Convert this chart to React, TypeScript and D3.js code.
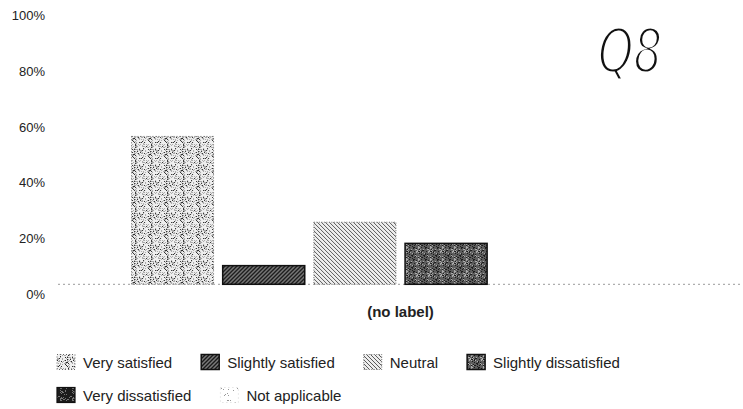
import React from "react";
import * as d3 from "d3";

const categories = ["(no label)"];
const seriesNames = [
  "Very satisfied",
  "Slightly satisfied",
  "Neutral",
  "Slightly dissatisfied",
  "Very dissatisfied",
  "Not applicable",
];
const seriesValues = [53.1, 6.7, 22.3, 14.7, 0, 0];
const yTickValues = [0, 20, 40, 60, 80, 100];
const yTickLabels = ["0%", "20%", "40%", "60%", "80%", "100%"];
const legendRows = [[0, 1, 2, 3], [4, 5]];
const annotation = "Q8";

const W = 743;
const H = 409;
const FONT = "'Liberation Sans', Arial, sans-serif";

function lcg(seed: number) {
  let s = seed >>> 0;
  return () => {
    s = (s * 1664525 + 1013904223) % 4294967296;
    return s / 4294967296;
  };
}

function dots(size: number, count: number, seed: number) {
  const r = lcg(seed);
  const out: [number, number][] = [];
  for (let i = 0; i < count; i++) out.push([Math.floor(r() * size), Math.floor(r() * size)]);
  return out;
}

let canvasCtx: CanvasRenderingContext2D | null = null;
function measure(text: string, font: string) {
  if (!canvasCtx) canvasCtx = document.createElement("canvas").getContext("2d");
  if (!canvasCtx) return text.length * 7;
  canvasCtx.font = font;
  return canvasCtx.measureText(text).width;
}

const patternIds = ["pVS", "pSS", "pN", "pSD", "pVD", "pNA"];
const borderStyles = [
  { stroke: "#666", dash: "1 2", width: 1 },
  { stroke: "#111", dash: "", width: 1.5 },
  { stroke: "#777", dash: "1 1.5", width: 1 },
  { stroke: "#111", dash: "", width: 1.5 },
  { stroke: "#111", dash: "", width: 1.2 },
  { stroke: "#ccc", dash: "1 3", width: 0.8 },
];

function Patterns() {
  const vsGray = dots(16, 80, 11);
  const vsDark = dots(16, 26, 23);
  const sdLight = dots(12, 22, 37);
  const sdDark = dots(12, 46, 41);
  const vdGray = dots(12, 30, 53);
  const naDots = dots(16, 12, 67);
  return (
    <defs>
      <pattern id="pVS" patternUnits="userSpaceOnUse" width={16} height={16}>
        <rect width={16} height={16} fill="#efefef" />
        {vsGray.map(([x, y], i) => (
          <rect key={"g" + i} x={x} y={y} width={1} height={1} fill="#a8a8a8" />
        ))}
        {vsDark.map(([x, y], i) => (
          <rect key={"d" + i} x={x} y={y} width={1} height={1} fill="#2a2a2a" />
        ))}
      </pattern>
      <pattern id="pSS" patternUnits="userSpaceOnUse" width={4} height={4}>
        <rect width={4} height={4} fill="#7a7a7a" />
        <path d="M0,4 L4,0 M-1,1 L1,-1 M3,5 L5,3" stroke="#1a1a1a" strokeWidth={1.4} />
      </pattern>
      <pattern id="pN" patternUnits="userSpaceOnUse" width={4} height={4}>
        <rect width={4} height={4} fill="#eeeeee" />
        <path d="M0,0 L4,4 M-1,3 L1,5 M3,-1 L5,1" stroke="#5a5a5a" strokeWidth={1} />
      </pattern>
      <pattern id="pSD" patternUnits="userSpaceOnUse" width={12} height={12}>
        <rect width={12} height={12} fill="#5e5e5e" />
        {sdDark.map(([x, y], i) => (
          <rect key={"d" + i} x={x} y={y} width={1} height={1} fill="#1a1a1a" />
        ))}
        {sdLight.map(([x, y], i) => (
          <rect key={"l" + i} x={x} y={y} width={1} height={1} fill="#b0b0b0" />
        ))}
      </pattern>
      <pattern id="pVD" patternUnits="userSpaceOnUse" width={12} height={12}>
        <rect width={12} height={12} fill="#1c1c1c" />
        {vdGray.map(([x, y], i) => (
          <rect key={"g" + i} x={x} y={y} width={1} height={1} fill="#777" />
        ))}
      </pattern>
      <pattern id="pNA" patternUnits="userSpaceOnUse" width={16} height={16}>
        <rect width={16} height={16} fill="#fff" />
        {naDots.map(([x, y], i) => (
          <rect key={"n" + i} x={x} y={y} width={1} height={1} fill="#999" />
        ))}
      </pattern>
    </defs>
  );
}

export default function App() {
  const y = d3.scaleLinear().domain([0, 100]).range([284.3, 5.8]);
  const x0 = d3.scaleBand<string>().domain(categories).range([58, W]).paddingInner(0).paddingOuter(0.1);
  const x1 = d3
    .scaleBand<string>()
    .domain(seriesNames)
    .range([0, x0.bandwidth()])
    .paddingInner(0.1)
    .paddingOuter(0.18);

  const legendFont = `15px ${FONT}`;
  const swatchW = 18;
  const swatchH = 15;
  const textGap = 8;
  const itemGap = 29;
  const legendStartX = 57;
  const legendRowY = [362, 395];

  const legendItems: { idx: number; x: number; y: number }[] = [];
  legendRows.forEach((row, ri) => {
    let cx = legendStartX;
    row.forEach((idx) => {
      legendItems.push({ idx, x: cx, y: legendRowY[ri] });
      cx += swatchW + textGap + measure(seriesNames[idx], legendFont) + itemGap;
    });
  });

  return (
    <svg
      width={W}
      height={H}
      style={{ position: "absolute", left: 0, top: 0, background: "#fff" }}
      fontFamily={FONT}
    >
      <Patterns />
      <rect width={W} height={H} fill="#fff" />

      {yTickValues.map((v, i) => (
        <text
          key={v}
          x={45}
          y={y(v) + 10}
          textAnchor="end"
          dominantBaseline="central"
          fontSize={13}
          fill="#222"
        >
          {yTickLabels[i]}
        </text>
      ))}

      <line
        x1={58}
        x2={W}
        y1={y(0)}
        y2={y(0)}
        stroke="#9a9a9a"
        strokeWidth={1}
        strokeDasharray="2 3"
      />

      {categories.map((c) => (
        <g key={c} transform={`translate(${x0(c)},0)`}>
          {seriesNames.map((s, i) => {
            const v = seriesValues[i];
            if (v <= 0) return null;
            const b = borderStyles[i];
            return (
              <rect
                key={s}
                x={x1(s)}
                y={y(v)}
                width={x1.bandwidth()}
                height={y(0) - y(v)}
                fill={`url(#${patternIds[i]})`}
                stroke={b.stroke}
                strokeWidth={b.width}
                strokeDasharray={b.dash || undefined}
              />
            );
          })}
          <text
            x={x0.bandwidth() / 2}
            y={311}
            textAnchor="middle"
            dominantBaseline="central"
            fontSize={15}
            fontWeight="bold"
            fill="#222"
          >
            {c}
          </text>
        </g>
      ))}

      {legendItems.map(({ idx, x, y: ly }) => {
        const b = borderStyles[idx];
        return (
          <g key={idx}>
            <rect
              x={x}
              y={ly - swatchH / 2}
              width={swatchW}
              height={swatchH}
              fill={`url(#${patternIds[idx]})`}
              stroke={b.stroke}
              strokeWidth={b.width}
              strokeDasharray={b.dash || undefined}
            />
            <text
              x={x + swatchW + textGap}
              y={ly}
              dominantBaseline="central"
              fontSize={15}
              fill="#222"
            >
              {seriesNames[idx]}
            </text>
          </g>
        );
      })}

      <text
        x={598}
        y={72}
        fontFamily="'DejaVu Sans', sans-serif"
        fontStyle="italic"
        fontSize={60}
        fill="#111"
        stroke="#fff"
        strokeWidth={2.8}
        textLength={64}
        lengthAdjust="spacingAndGlyphs"
      >
        {annotation}
      </text>
    </svg>
  );
}
